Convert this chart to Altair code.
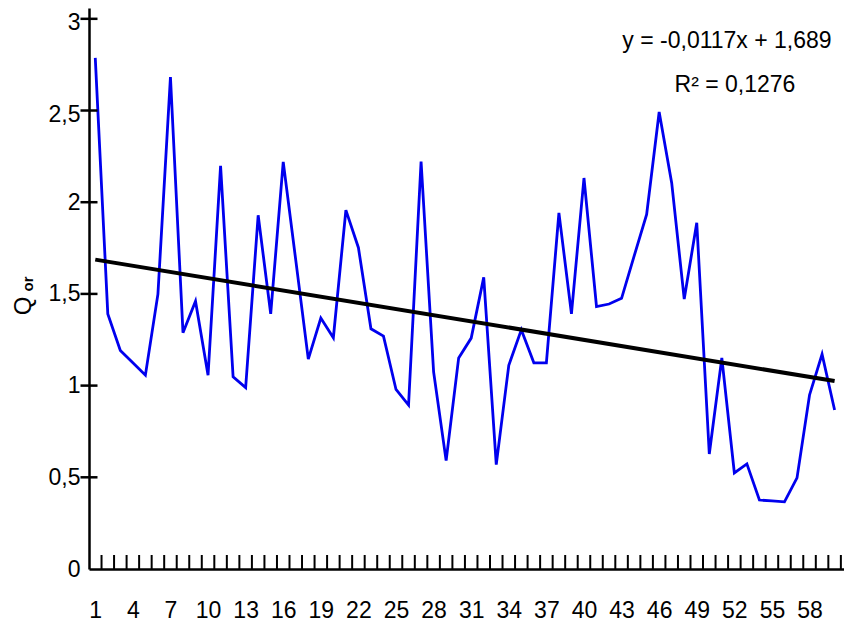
import altair as alt
import pandas as pd

# ---- data ----
SAMPLE = list(range(1, 61))
Q_OR = [2.787, 1.391, 1.192, 1.125, 1.057, 1.499, 2.682, 1.288, 1.460, 1.057,
        2.198, 1.048, 0.989, 1.929, 1.391, 2.220, 1.684, 1.144, 1.368, 1.261,
        1.957, 1.752, 1.310, 1.270, 0.979, 0.894, 2.222, 1.075, 0.591, 1.151,
        1.259, 1.590, 0.569, 1.111, 1.304, 1.124, 1.124, 1.942, 1.391, 2.132,
        1.431, 1.445, 1.476, 1.706, 1.933, 2.492, 2.105, 1.472, 1.888, 0.627,
        1.151, 0.524, 0.573, 0.376, 0.371, 0.366, 0.497, 0.949, 1.171, 0.867]
TREND_X = [1, 60]
TREND_Y = [1.687, 1.025]
X_LABELS = list(range(1, 61, 3))
X_TICKS = [s + 0.5 for s in SAMPLE]
Y_TICKS = [0, 0.5, 1, 1.5, 2, 2.5, 3]
Y_CROSS_TICKS = [0.5, 1, 1.5, 2, 2.5, 3]
ANNOT = ["y = -0,0117x + 1,689", "R\u00b2 = 0,1276"]
Y_TITLE = ["Q", "or"]

FONT = "Liberation Sans, Arial, sans-serif"
W, H = 755, 561

series = pd.DataFrame({"x": SAMPLE, "q": Q_OR})
trend = pd.DataFrame({"x": TREND_X, "q": TREND_Y})
xt = pd.DataFrame({"x": X_TICKS})
yt = pd.DataFrame({"q": Y_CROSS_TICKS})

xs = alt.Scale(domain=[0.5, 60.75], nice=False, zero=False)
ys = alt.Scale(domain=[0, 3.059], nice=False, zero=False)

x_axis = alt.Axis(values=X_LABELS, title=None, ticks=False, labelPadding=30,
                  labelFontSize=23, labelFont=FONT, labelColor="black",
                  domainColor="black", domainWidth=2.5, grid=False,
                  labelOverlap=False)
y_axis = alt.Axis(values=Y_TICKS, title=None, ticks=False, labelPadding=9,
                  labelFontSize=23, labelFont=FONT, labelColor="black",
                  domainColor="black", domainWidth=2.5, grid=False,
                  labelOverlap=False,
                  labelOffset={"condition": {"test": "datum.value >= 2.5", "value": 4}, "value": 0},
                  labelExpr="replace(format(datum.value, '.1~f'), '.', ',')")

line = alt.Chart(series).mark_line(color="#0000ee", strokeWidth=2.8).encode(
    x=alt.X("x:Q", scale=xs, axis=x_axis),
    y=alt.Y("q:Q", scale=ys, axis=y_axis),
)

trend_line = alt.Chart(trend).mark_line(color="black", strokeWidth=4).encode(
    x=alt.X("x:Q", scale=xs, axis=x_axis),
    y=alt.Y("q:Q", scale=ys, axis=y_axis),
)

x_ticks = alt.Chart(xt).mark_tick(orient="vertical", color="black", size=14,
                                  thickness=2, opacity=1).encode(
    x=alt.X("x:Q", scale=xs, axis=x_axis),
    y=alt.value(H - 7),
)

y_ticks = alt.Chart(yt).mark_tick(orient="horizontal", color="black", size=17,
                                  thickness=2.5, opacity=1).encode(
    y=alt.Y("q:Q", scale=ys, axis=y_axis),
    x=alt.value(0),
)

ann1 = alt.Chart(pd.DataFrame({"t": [ANNOT[0]]})).mark_text(
    font=FONT, fontSize=23, align="center", baseline="alphabetic", color="black").encode(
    x=alt.value(638), y=alt.value(40), text="t:N")
ann2 = alt.Chart(pd.DataFrame({"t": [ANNOT[1]]})).mark_text(
    font=FONT, fontSize=23, align="center", baseline="alphabetic", color="black").encode(
    x=alt.value(646), y=alt.value(84), text="t:N")

tq = alt.Chart(pd.DataFrame({"t": [Y_TITLE[0]]})).mark_text(
    font=FONT, fontSize=24, angle=270, align="center", baseline="alphabetic",
    color="black").encode(x=alt.value(-58), y=alt.value(298), text="t:N")
tor = alt.Chart(pd.DataFrame({"t": [Y_TITLE[1]]})).mark_text(
    font=FONT, fontSize=15, angle=270, align="center", baseline="alphabetic",
    fontWeight="bold", color="black").encode(x=alt.value(-56), y=alt.value(276), text="t:N")

chart = alt.layer(line, trend_line, x_ticks, y_ticks, ann1, ann2, tq, tor).properties(
    width=W, height=H,
    autosize=alt.AutoSizeParams(type="none"),
    padding={"left": 81, "top": 0, "right": 0, "bottom": 56},
).configure_view(stroke=None)

chart.save("out.html", embed_options={"renderer": "svg", "actions": False})
